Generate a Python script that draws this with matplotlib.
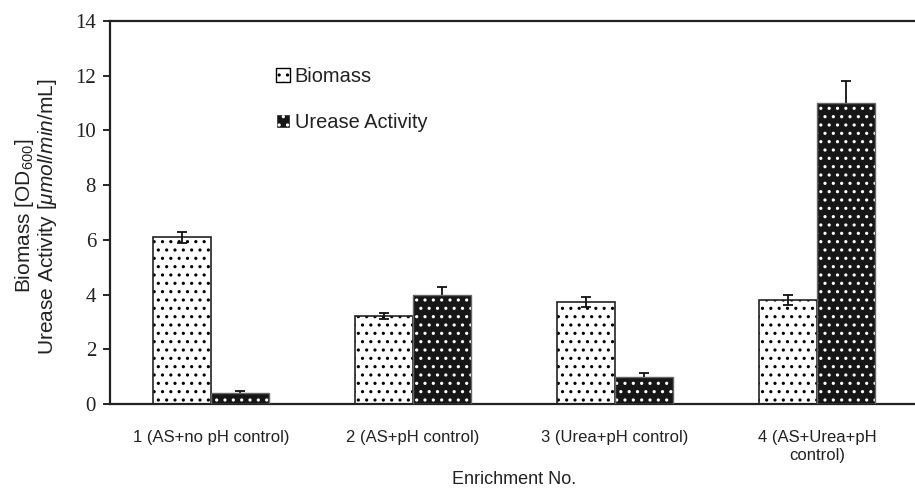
import numpy as np
import matplotlib
matplotlib.use("Agg")
import matplotlib.pyplot as plt

######################################################################
# enrichment data
######################################################################

enrichments = ["1 (AS+no pH control)", "2 (AS+pH control)",
               "3 (Urea+pH control)", "4 (AS+Urea+pH\ncontrol)"]
biomass = [6.1, 3.22, 3.72, 3.8]
biomass_err = [0.2, 0.12, 0.19, 0.18]
urease = [0.4, 4.0, 1.0, 11.0]
urease_err = [0.07, 0.26, 0.13, 0.82]

plt.rcParams["mathtext.fontset"] = "custom"
plt.rcParams["mathtext.rm"] = "Liberation Sans"
plt.rcParams["mathtext.it"] = "Liberation Sans:italic"
plt.rcParams["hatch.linewidth"] = 1.1

sans = "Liberation Sans"
serif = "Liberation Serif"
ink = "#222222"

fig = plt.figure(figsize = (9.15, 4.88), dpi = 100)
ax = fig.add_axes([110 / 915, 1 - 404 / 488, 808 / 915, 383 / 488])

x = np.arange(len(enrichments))
w = 0.287

# biomass: white bars, black dots
ax.bar(x - w / 2, biomass, w, color = "white", edgecolor = "black",
       hatch = "..", linewidth = 0, zorder = 2)
ax.bar(x - w / 2, biomass, w, fill = False, edgecolor = ink,
       linewidth = 1.2, zorder = 3)

# urease activity: black bars, white dots
ax.bar(x + w / 2, urease, w, color = "#161616", edgecolor = "white",
       hatch = "..", linewidth = 0, zorder = 2)
ax.bar(x + w / 2, urease, w, fill = False, edgecolor = "#666666",
       linewidth = 1.0, zorder = 3)

ax.errorbar(x - w / 2, biomass, yerr = biomass_err, fmt = "none",
            ecolor = "#111111", elinewidth = 1.3, capsize = 3.6, capthick = 1.3,
            zorder = 4)
ax.errorbar(x + w / 2, urease, yerr = urease_err, fmt = "none",
            ecolor = "#111111", elinewidth = 1.3, capsize = 3.6, capthick = 1.3,
            zorder = 1)

# legend entries
h1 = plt.Rectangle((0, 0), 1, 1, facecolor = "white", edgecolor = "black",
                   hatch = "..", linewidth = 1.0)
h2 = plt.Rectangle((0, 0), 1, 1, facecolor = "#161616", edgecolor = "white",
                   hatch = "..", linewidth = 1.0)
leg = ax.legend([h1, h2], ["Biomass", "Urease Activity"],
                loc = "upper left", bbox_to_anchor = (166 / 808, 337 / 383),
                borderaxespad = 0, borderpad = 0,
                frameon = False, handlelength = 0.68, handleheight = 0.68,
                handletextpad = 0.25, labelspacing = 1.35,
                prop = {"family": sans, "size": 14.4})
for t in leg.get_texts():
    t.set_color(ink)

ax.set_xlim(-0.5, 3.5)
ax.set_ylim(0, 14)
ax.set_yticks(np.arange(0, 15, 2))
ax.set_xticks(x)
ax.set_xticklabels(enrichments, fontfamily = sans, fontsize = 12,
                   color = ink)
ax.tick_params(axis = "x", length = 0, pad = 19)
ax.tick_params(axis = "y", length = 5, width = 1.2, pad = 5,
               labelsize = 15, labelcolor = ink)
for lab in ax.get_yticklabels():
    lab.set_fontfamily(serif)

for side in ["left", "top", "bottom"]:
    ax.spines[side].set_linewidth(1.6)
    ax.spines[side].set_color(ink)
ax.spines["right"].set_visible(False)

ax.set_xlabel("Enrichment No.", fontfamily = sans, fontsize = 13,
              color = ink)
ax.xaxis.set_label_coords(0.5, (404 - 479) / 383)
ax.xaxis.label.set_va("center")

ax.set_ylabel("Biomass [OD$_{600}$]\nUrease Activity [$\\mathit{\\mu mol/min}$/mL]",
              fontfamily = sans, fontsize = 15, color = ink,
              linespacing = 1.0)
ax.yaxis.set_label_coords((36 - 110) / 808, 0.49)
ax.yaxis.label.set_va("center")

fig.savefig("out.png", dpi = 100)
